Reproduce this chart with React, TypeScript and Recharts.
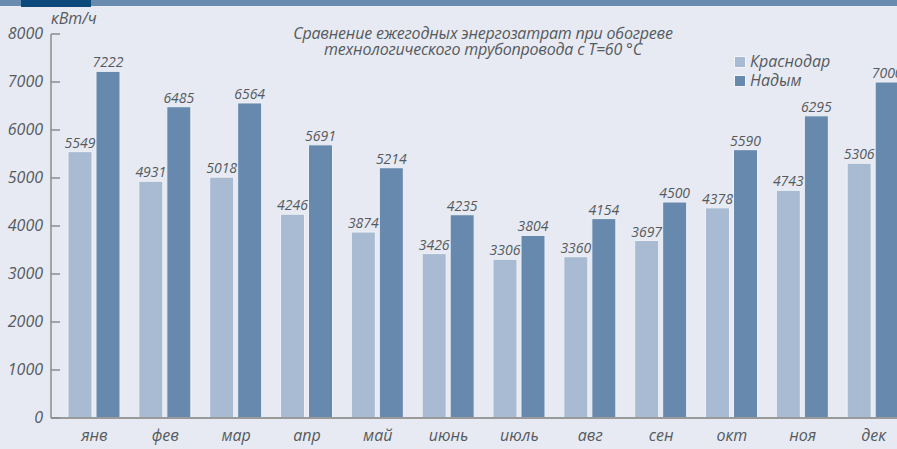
import { Bar, BarChart, LabelList, XAxis, YAxis } from 'recharts'

const months = ['янв', 'фев', 'мар', 'апр', 'май', 'июнь', 'июль', 'авг', 'сен', 'окт', 'ноя', 'дек']
const krasnodar = [5549, 4931, 5018, 4246, 3874, 3426, 3306, 3360, 3697, 4378, 4743, 5306]
const nadym = [7222, 6485, 6564, 5691, 5214, 4235, 3804, 4154, 4500, 5590, 6295, 7000]
const yTicks = [0, 1000, 2000, 3000, 4000, 5000, 6000, 7000, 8000]
const titleLines = ['Сравнение ежегодных энергозатрат при обогреве', 'технологического трубопровода с T=60 °C']

const LIGHT = '#a9bbd3'
const DARK = '#6889ae'
const TEXT = '#555a60'
const FONT = '"Open Sans", sans-serif'

const data = months.map((m, i) => ({ month: m, krasnodar: krasnodar[i], nadym: nadym[i] }))
const series = [
  { key: 'krasnodar', name: 'Краснодар', color: LIGHT },
  { key: 'nadym', name: 'Надым', color: DARK },
]

// tick line drawn inward (to the right of the axis), label to the left
function YTick(props: any) {
  const { x, y, payload } = props
  return (
    <g>
      <line x1={x + 8} x2={x + 17} y1={y} y2={y} stroke="#8c8c8c" strokeWidth={1.5} />
      <text x={x} y={y} dy={5} textAnchor="end" fontSize={16} fontStyle="italic" fill={TEXT} fontFamily={FONT}>
        {payload.value}
      </text>
    </g>
  )
}

const textStyle = { fontFamily: FONT, fontStyle: 'italic' as const, color: TEXT }

export default function App() {
  return (
    <div
      style={{
        position: 'absolute',
        left: 0,
        top: 0,
        width: 897,
        height: 449,
        overflow: 'hidden',
        background: '#e7eaf2',
      }}
    >
      <div style={{ position: 'absolute', left: 0, top: 0, width: 897, height: 6, background: '#6a8bb0' }} />
      <div style={{ position: 'absolute', left: 21, top: 0, width: 70, height: 7, background: '#0c4a7b' }} />
      <div style={{ ...textStyle, position: 'absolute', left: 51, top: 8, fontSize: 16, lineHeight: '20px' }}>
        кВт/ч
      </div>
      {titleLines.map((t, i) => (
        <div
          key={t}
          style={{
            ...textStyle,
            position: 'absolute',
            left: 233,
            width: 500,
            top: 25 + i * 16,
            textAlign: 'center',
            fontSize: 16,
            lineHeight: '16px',
            letterSpacing: -0.2,
          }}
        >
          {t}
        </div>
      ))}
      <div style={{ ...textStyle, position: 'absolute', left: 734, top: 52, fontSize: 16, lineHeight: '19px' }}>
        {series.map(s => (
          <div key={s.key} style={{ display: 'flex', alignItems: 'center' }}>
            <span style={{ width: 10, height: 10, background: s.color, marginRight: 4, border: '1px solid #f2f4f8' }} />
            {s.name}
          </div>
        ))}
      </div>
      <BarChart
        width={915}
        height={449}
        data={data}
        margin={{ top: 34, right: 6, bottom: 0, left: 0 }}
        barSize={24}
        barGap={4}
        style={{ position: 'absolute', left: 0, top: 0 }}
      >
        <XAxis
          dataKey="month"
          height={31}
          padding={{ left: 8, right: 0 }}
          axisLine={{ stroke: '#9a9a9a', strokeWidth: 2 }}
          tickLine={false}
          tickMargin={6}
          tick={{ fontSize: 16, fontStyle: 'italic', fill: TEXT, fontFamily: FONT }}
          interval={0}
        />
        <YAxis
          width={51}
          domain={[0, 8000]}
          ticks={yTicks}
          interval={0}
          axisLine={{ stroke: '#8c8c8c', strokeWidth: 1.5 }}
          tickLine={false}
          tickSize={0}
          tickMargin={8}
          tick={<YTick />}
        />
        {series.map(s => (
          <Bar
            key={s.key}
            dataKey={s.key}
            name={s.name}
            fill={s.color}
            stroke="#eef1f6"
            strokeWidth={1}
            isAnimationActive={false}
          >
            <LabelList
              dataKey={s.key}
              position="top"
              offset={4}
              style={{ fontSize: 14, fontStyle: 'italic', fill: TEXT, fontFamily: FONT }}
            />
          </Bar>
        ))}
      </BarChart>
    </div>
  )
}
